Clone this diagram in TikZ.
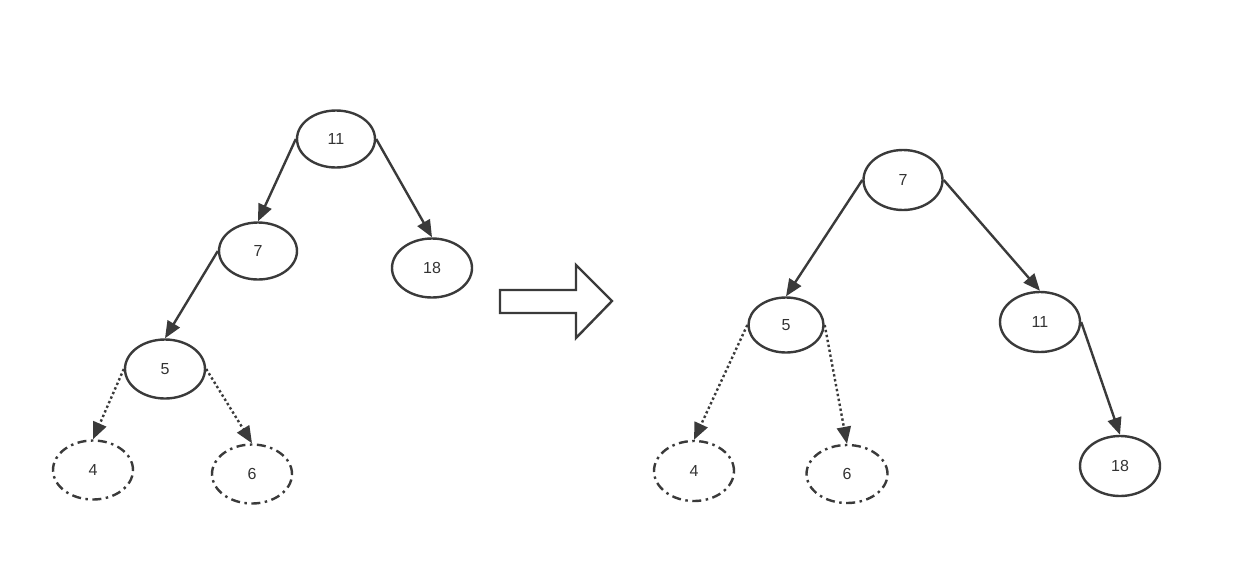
\documentclass[tikz,border=0pt]{standalone}
\usepackage{fontspec}
\setmainfont{Liberation Sans}
\usetikzlibrary{shapes.geometric,arrows.meta}
\definecolor{ln}{HTML}{3A3A3A}
\definecolor{tx}{HTML}{333333}
\begin{document}
\begin{tikzpicture}[x=1pt,y=-1pt,
  nd/.style={ellipse,draw=ln,line width=2.4pt,minimum width=78pt,minimum height=57pt,inner sep=0pt,text=tx,font=\fontsize{16}{16}\selectfont},
  ghost/.style={nd,dash pattern=on 9pt off 4.5pt on 2.5pt off 4.5pt},
  edge/.style={draw=ln,line width=2.4pt,-{Triangle[length=17pt,width=14pt]}},
  dedge/.style={edge,dash pattern=on 2.4pt off 2.6pt}]
\useasboundingbox (0,0) rectangle (1242,560);
% left tree
\node[nd] (a11) at (336,139) {11};
\node[nd] (a7) at (258,251) {7};
\node[nd,minimum width=80pt,minimum height=59pt] (a18) at (432,268) {18};
\node[nd,minimum width=80pt,minimum height=59pt] (a5) at (165,369) {5};
\node[ghost,minimum width=80pt,minimum height=59pt] (a4) at (93,470) {4};
\node[ghost,minimum width=80pt,minimum height=59pt] (a6) at (252,474) {6};
\draw[edge] (a11.west) -- (a7.north);
\draw[edge] (a11.east) -- (a18.north);
\draw[edge] (a7.west) -- (a5.north);
\draw[dedge] (a5.west) -- (a4.north);
\draw[dedge] (a5.east) -- (a6.north);
% big arrow
\draw[ln,line width=2.4pt,line join=miter] (500,290) -- (576,290) -- (576,265) -- (612,301) -- (576,338) -- (576,313) -- (500,313) -- cycle;
% right tree
\node[nd,minimum width=79pt,minimum height=60pt] (b7) at (903,180) {7};
\node[nd,minimum width=75pt,minimum height=55pt] (b5) at (786,325) {5};
\node[nd,minimum width=80pt,minimum height=60pt] (b11) at (1040,322) {11};
\node[nd,minimum width=80pt,minimum height=60pt] (b18) at (1120,466) {18};
\node[ghost,minimum width=80pt,minimum height=60pt] (b4) at (694,471) {4};
\node[ghost,minimum width=81pt,minimum height=58pt] (b6) at (847,474) {6};
\draw[edge] (b7.west) -- (b5.north);
\draw[edge] (b7.east) -- (b11.north);
\draw[dedge] (b5.west) -- (b4.north);
\draw[dedge] (b5.east) -- (b6.north);
\draw[edge] (b11.east) -- (b18.north);
\end{tikzpicture}
\end{document}
